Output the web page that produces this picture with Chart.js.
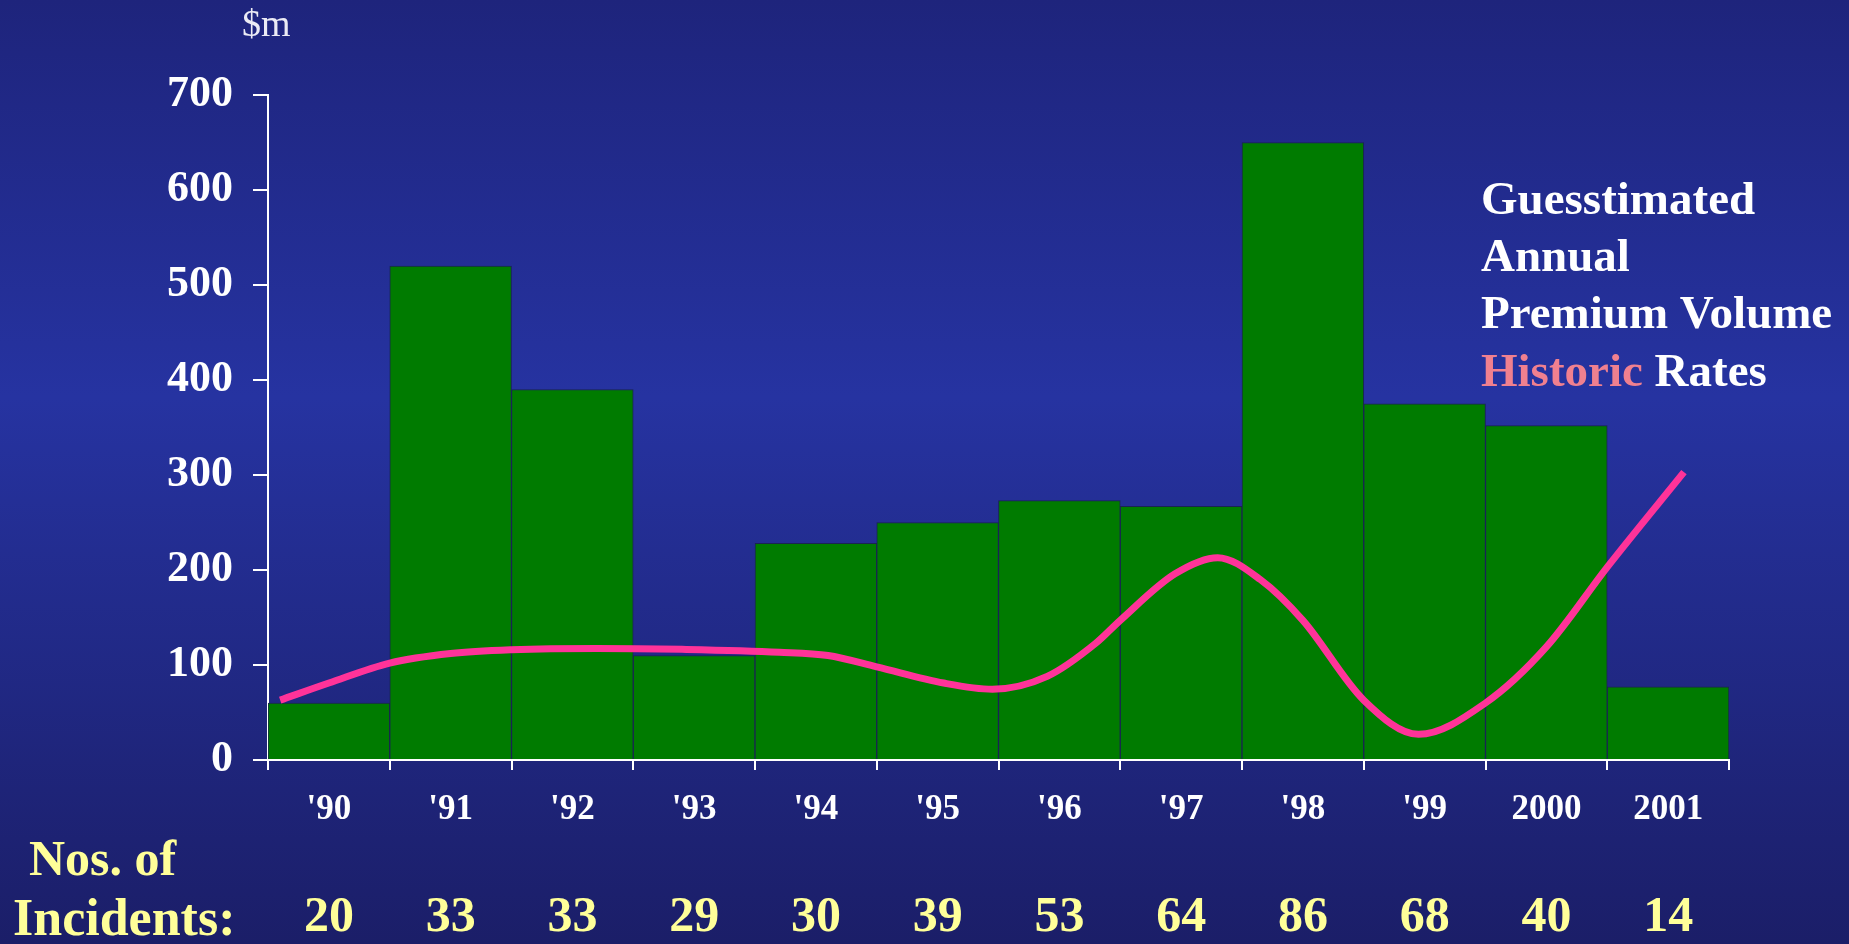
<!DOCTYPE html>
<html>
<head>
<meta charset="utf-8">
<title>Guesstimated Annual Premium Volume and Historic Rates</title>
<script src="https://cdn.jsdelivr.net/npm/chart.js@4.4.1/dist/chart.umd.min.js"></script>
<style>
  html, body { margin: 0; padding: 0; background: #1f2680; }
  #wrap { position: relative; width: 1849px; height: 944px; }
</style>
</head>
<body>
<div id="wrap"><canvas id="chart"></canvas></div>
<script>
// Years on the category axis
const years = ["'90", "'91", "'92", "'93", "'94", "'95", "'96", "'97", "'98", "'99", "2000", "2001"];
// Guesstimated annual premium volume, $m
const premiumVolume = [60, 520, 390, 110, 228, 250, 273, 267, 650, 375, 352, 77];
// Number of incidents per year
const incidents = [20, 33, 33, 29, 30, 39, 53, 64, 86, 68, 40, 14];
// Historic rates curve: position along the year axis (0 = '90) and height on the $m scale
const rateX = [-0.4, 0, 0.5, 1, 1.5, 2.2, 2.9, 3.7, 4.1, 4.5, 5.05, 5.45, 5.9, 6.3, 6.5, 6.95, 7.3, 7.65, 8.0, 8.5, 8.95, 9.5, 10, 10.5, 11.13];
const rateY = [63, 81, 102, 112, 116, 117.5, 116.5, 113.5, 110, 98, 81, 74.5, 88, 123, 147, 196, 213, 190, 147, 63, 27, 60, 119, 203, 303];
// Y axis ticks
const yTicks = [0, 100, 200, 300, 400, 500, 600, 700];

const SERIF = "'Liberation Serif', 'Times New Roman', serif";
const WHITE = '#ffffff';
const YELLOW = '#ffff99';

const backdrop = {
  id: 'backdrop',
  beforeDraw(chart) {
    const { ctx, width, height } = chart;
    const g = ctx.createLinearGradient(0, 0, 0, height);
    g.addColorStop(0, '#1e247c');
    g.addColorStop(0.42, '#2633a1');
    g.addColorStop(1, '#1b1e68');
    ctx.save();
    ctx.fillStyle = g;
    ctx.fillRect(0, 0, width, height);
    ctx.restore();
  }
};

const captions = {
  id: 'captions',
  afterDraw(chart) {
    const { ctx } = chart;
    ctx.save();
    ctx.textAlign = 'left';
    ctx.textBaseline = 'alphabetic';

    // unit label above the value axis
    ctx.fillStyle = '#ebebf5';
    ctx.font = `38px ${SERIF}`;
    ctx.fillText('$m', 242, 36);

    // key text at upper right
    ctx.font = `bold 47px ${SERIF}`;
    ctx.fillStyle = WHITE;
    const kx = 1481;
    ctx.fillText('Guesstimated', kx, 214);
    ctx.fillText('Annual', kx, 271);
    ctx.fillText('Premium Volume', kx, 328);
    ctx.fillStyle = '#f0808f';
    ctx.fillText('Historic', kx, 386);
    const w = ctx.measureText('Historic ').width;
    ctx.fillStyle = WHITE;
    ctx.fillText('Rates', kx + w, 386);

    // caption for the incidents row
    ctx.font = `bold 50px ${SERIF}`;
    ctx.fillStyle = YELLOW;
    ctx.fillText('Nos. of', 29, 875);
    ctx.font = `bold 52px ${SERIF}`;
    ctx.fillText('Incidents:', 13, 935);
    ctx.restore();
  }
};

new Chart(document.getElementById('chart'), {
  type: 'bar',
  data: {
    labels: years,
    datasets: [
      {
        type: 'line',
        label: 'Historic Rates',
        data: rateX.map((x, i) => ({ x: x, y: rateY[i] })),
        xAxisID: 'xl',
        yAxisID: 'y',
        borderColor: '#ff3399',
        borderWidth: 7,
        pointRadius: 0,
        fill: false,
        cubicInterpolationMode: 'monotone',
        borderCapStyle: 'butt',
        order: 0
      },
      {
        type: 'bar',
        label: 'Premium Volume',
        data: premiumVolume,
        xAxisID: 'x',
        yAxisID: 'y',
        backgroundColor: '#007b00',
        borderColor: '#1a2452',
        borderWidth: 1,
        grouped: false,
        categoryPercentage: 1,
        barPercentage: 1,
        order: 1
      }
    ]
  },
  options: {
    responsive: true,
    maintainAspectRatio: false,
    animation: false,
    layout: { padding: { top: 95, right: 120, left: 0, bottom: 0 } },
    plugins: { legend: { display: false }, tooltip: { enabled: false } },
    scales: {
      y: {
        position: 'left',
        min: 0,
        max: 700,
        afterBuildTicks(scale) { scale.ticks = yTicks.map(v => ({ value: v })); },
        afterFit(scale) { scale.width = 268; },
        ticks: { color: WHITE, font: { family: SERIF, size: 44, weight: 'bold' }, padding: 20 },
        grid: { drawOnChartArea: false, color: WHITE, lineWidth: 2, tickLength: 15 },
        border: { color: WHITE, width: 2 }
      },
      x: {
        type: 'category',
        position: 'bottom',
        weight: 0,
        offset: true,
        afterFit(scale) { scale.height = 90; },
        ticks: { color: WHITE, font: { family: SERIF, size: 35, weight: 'bold' }, padding: 19, maxRotation: 0, autoSkip: false },
        grid: { offset: true, drawOnChartArea: false, color: WHITE, lineWidth: 2, tickLength: 10 },
        border: { color: WHITE, width: 2 }
      },
      x2: {
        type: 'category',
        position: 'bottom',
        weight: 1,
        offset: true,
        labels: incidents.map(String),
        afterFit(scale) { scale.height = 94; },
        ticks: { color: YELLOW, font: { family: SERIF, size: 50, weight: 'bold' }, padding: 38, maxRotation: 0, autoSkip: false },
        grid: { display: false, drawTicks: false },
        border: { display: false }
      },
      xl: {
        type: 'linear',
        display: false,
        offset: false,
        grid: { offset: false },
        min: -0.5,
        max: 11.5
      }
    }
  },
  plugins: [backdrop, captions]
});
</script>
</body>
</html>
